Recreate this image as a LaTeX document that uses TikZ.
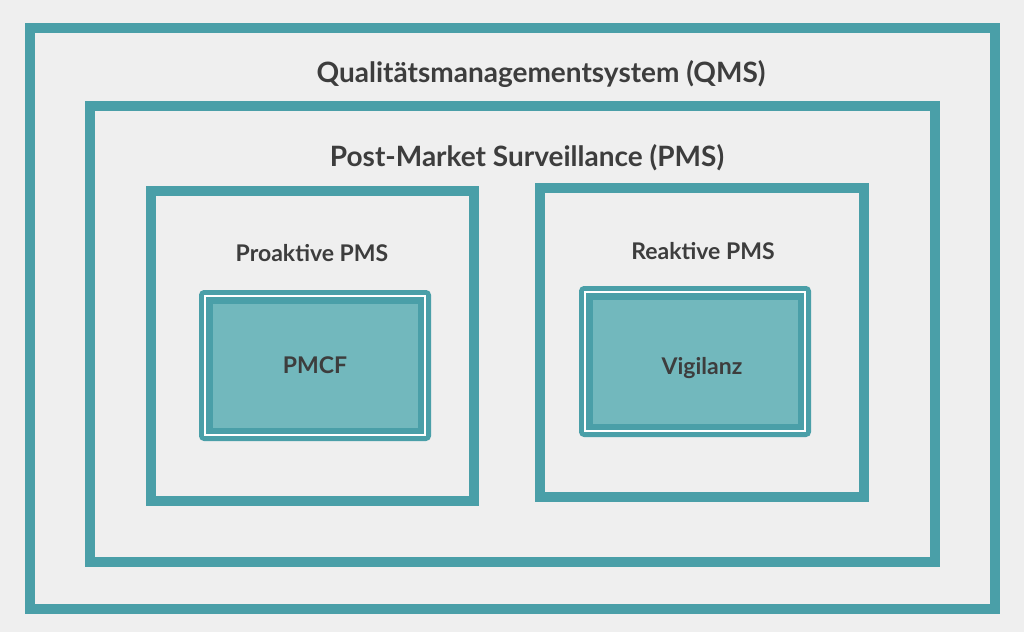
\documentclass[tikz,border=0pt]{standalone}
\usepackage{fontspec}
\setmainfont{Lato}
\definecolor{teal1}{HTML}{4A9FA8}
\definecolor{fillt}{HTML}{72B8BD}
\definecolor{bg}{HTML}{EFEFEF}
\definecolor{txt}{HTML}{3D3D3D}
\begin{document}
\begin{tikzpicture}[x=1pt,y=-1pt,
  frame/.style={draw=teal1,line width=10pt},
  lbl/.style={text=txt,font=\bfseries},
  inner/.style={draw=teal1,fill=teal1,line width=2pt,rounded corners=4pt}]
\fill[bg] (0,0) rectangle (1024,632);
\useasboundingbox (0,0) rectangle (1024,632);
\draw[frame] (30,28) rectangle (995,609);
\draw[frame] (90,106) rectangle (935,562);
\draw[frame] (151,191) rectangle (474,501);
\draw[frame] (540,188) rectangle (864,497);
\foreach \n/\a/\b/\c/\d in {p/200/291/430/440, v/580/287/810/436}{
  \draw[inner] (\a,\b) rectangle (\c,\d);
  \draw[white,line width=1.5pt] (\a+5,\b+5) rectangle (\c-5,\d-5);
  \draw[fill=fillt,draw=teal1,line width=5pt] (\a+10,\b+10) rectangle (\c-10,\d-10);
}
\node[lbl,font=\fontsize{28}{30}\selectfont\bfseries] (qms) at (541,74) {Qualitätsmanagementsystem (QMS)};
\node[lbl,font=\fontsize{28}{30}\selectfont\bfseries] (pms) at (527,158) {Post-Market Surveillance (PMS)};
\node[lbl,font=\fontsize{23}{25}\selectfont\bfseries] (pro) at (312,253) {Proaktive PMS};
\node[lbl,font=\fontsize{23}{25}\selectfont\bfseries] (rea) at (703,251) {Reaktive PMS};
\node[lbl,font=\fontsize{23}{25}\selectfont\bfseries] (pmcf) at (315,365) {PMCF};
\node[lbl,font=\fontsize{23}{25}\selectfont\bfseries] (vig) at (702,368) {Vigilanz};
\end{tikzpicture}
\end{document}
